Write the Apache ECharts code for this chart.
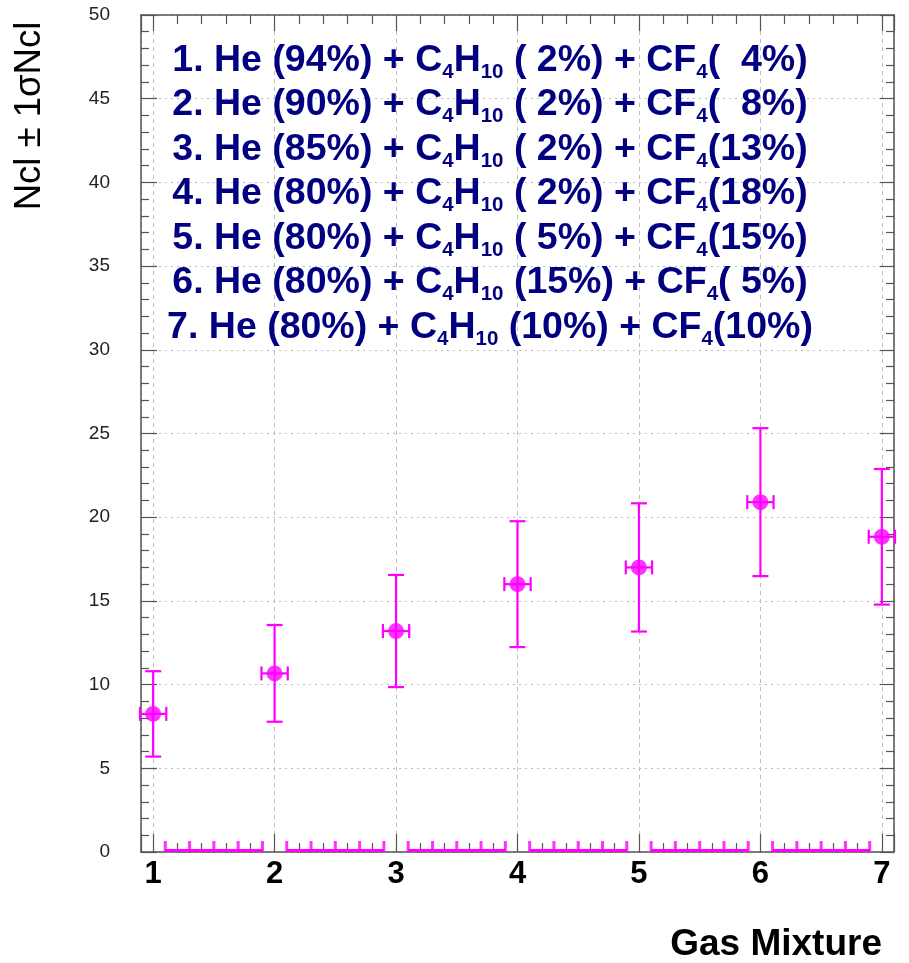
<!DOCTYPE html>
<html><head><meta charset="utf-8">
<script src="https://cdn.jsdelivr.net/npm/echarts@6/dist/echarts.min.js"></script>
<style>html,body{margin:0;padding:0;background:#fff}#c{width:909px;height:963px}</style>
</head><body><div id="c"></div>
<script>
// ---- data ----
const mixture = [1, 2, 3, 4, 5, 6, 7];
const ncl = [8.25, 10.67, 13.2, 16.0, 17.0, 20.9, 18.83];
const nclSigma = [2.55, 2.89, 3.35, 3.76, 3.83, 4.42, 4.05];
const mixtureErr = [0.1, 0.1, 0.1, 0.1, 0.1, 0.1, 0.1];
const zeroSegStart = [1.1, 2.1, 3.1, 4.1, 5.1, 6.1];
const zeroSegEnd = [1.9, 2.9, 3.9, 4.9, 5.9, 6.9];
const zeroMarkX = [1.1, 1.3, 1.5, 1.7, 1.9, 2.1, 2.3, 2.5, 2.7, 2.9, 3.1, 3.3, 3.5, 3.7, 3.9,
  4.1, 4.3, 4.5, 4.7, 4.9, 5.1, 5.3, 5.5, 5.7, 5.9, 6.1, 6.3, 6.5, 6.7, 6.9];
const legendLines = [
  '1. He (94%) + C_{4}H_{10} ( 2%) + CF_{4}(  4%)',
  '2. He (90%) + C_{4}H_{10} ( 2%) + CF_{4}(  8%)',
  '3. He (85%) + C_{4}H_{10} ( 2%) + CF_{4}(13%)',
  '4. He (80%) + C_{4}H_{10} ( 2%) + CF_{4}(18%)',
  '5. He (80%) + C_{4}H_{10} ( 5%) + CF_{4}(15%)',
  '6. He (80%) + C_{4}H_{10} (15%) + CF_{4}( 5%)',
  '7. He (80%) + C_{4}H_{10} (10%) + CF_{4}(10%)'
];
const xTitle = 'Gas Mixture';
const yTitle = 'Ncl \u00b1 1\u03c3Ncl';

// ---- build ----
const MAG = '#ff00ff';
const AX = '#555';
function toRich(line) {
  return line.split(/(_\{[^}]*\})/).filter(s => s.length).map(s => {
    const m = s.match(/^_\{([^}]*)\}$/);
    return m ? '{s|' + m[1] + '}' : '{t|' + s + '}';
  }).join('');
}
const legendRich = legendLines.map(toRich).join('\n');

const pts = mixture.map((x, i) => [x, ncl[i], nclSigma[i], mixtureErr[i]]);
const zeroSegs = zeroSegStart.map((s, i) => [s, zeroSegEnd[i]]);

const chart = echarts.init(document.getElementById('c'), null, {renderer: 'canvas'});
const font = 'Liberation Sans, Arial, Helvetica, sans-serif';
chart.setOption({
  backgroundColor: '#fff',
  animation: false,
  grid: {left: 141, right: 15, top: 15, bottom: 111, containLabel: false},
  xAxis: [{
    type: 'value', min: 0.9, max: 7.1, minInterval: 1, maxInterval: 1, splitNumber: 6,
    position: 'bottom',
    axisLine: {show: true, onZero: false, lineStyle: {color: AX, width: 1.5}},
    axisTick: {show: true, inside: true, length: 18, lineStyle: {color: AX, width: 1.2}},
    minorTick: {show: true, splitNumber: 5, length: 9, lineStyle: {color: AX, width: 1.2}},
    splitLine: {show: true, lineStyle: {color: '#bbb', type: [4, 4], width: 1}},
    axisLabel: {
      show: true, margin: 7, color: '#000', fontFamily: font, fontSize: 31, fontWeight: 'bold',
      showMinLabel: false, showMaxLabel: false,
      formatter: v => Math.abs(v - Math.round(v)) < 1e-6 ? String(Math.round(v)) : ''
    }
  }, {
    type: 'value', min: 0.9, max: 7.1, minInterval: 1, maxInterval: 1, splitNumber: 6,
    position: 'top',
    axisLine: {show: true, onZero: false, lineStyle: {color: AX, width: 1.5}},
    axisTick: {show: true, inside: true, length: 16, lineStyle: {color: AX, width: 1.2}},
    minorTick: {show: true, splitNumber: 5, length: 9, lineStyle: {color: AX, width: 1.2}},
    splitLine: {show: false},
    axisLabel: {show: false}
  }],
  yAxis: [{
    type: 'value', min: 0, max: 50, interval: 5, position: 'left',
    axisLine: {show: true, onZero: false, lineStyle: {color: AX, width: 1.5}},
    axisTick: {show: true, inside: true, length: 16, lineStyle: {color: AX, width: 1.2}},
    minorTick: {show: true, splitNumber: 5, length: 8, lineStyle: {color: AX, width: 1.2}},
    splitLine: {show: true, lineStyle: {color: '#bbb', type: [2, 4], width: 1.2}},
    axisLabel: {show: true, margin: 31, color: '#222', fontFamily: font, fontSize: 19}
  }, {
    type: 'value', min: 0, max: 50, interval: 5, position: 'right',
    axisLine: {show: true, onZero: false, lineStyle: {color: AX, width: 1.5}},
    axisTick: {show: true, inside: true, length: 14, lineStyle: {color: AX, width: 1.2}},
    minorTick: {show: true, splitNumber: 5, length: 8, lineStyle: {color: AX, width: 1.2}},
    splitLine: {show: false},
    axisLabel: {show: false}
  }],
  series: [{
    type: 'custom', name: 'zero', xAxisIndex: 0, yAxisIndex: 0, z: 3,
    data: zeroSegs,
    renderItem: (params, api) => {
      const a = api.coord([api.value(0), 0]);
      const b = api.coord([api.value(1), 0]);
      return {type: 'line', shape: {x1: a[0], y1: a[1] - 1.5, x2: b[0], y2: b[1] - 1.5},
        style: {stroke: MAG, lineWidth: 3}};
    }
  }, {
    type: 'scatter', name: 'zeroTicks', xAxisIndex: 0, yAxisIndex: 0, z: 3,
    symbol: 'rect', symbolSize: [3, 11], symbolOffset: [0, -5.5],
    itemStyle: {color: MAG}, silent: true,
    data: zeroMarkX.map(x => [x, 0])
  }, {
    type: 'custom', name: 'errors', xAxisIndex: 0, yAxisIndex: 0, z: 4,
    data: pts,
    renderItem: (params, api) => {
      const x = api.value(0), y = api.value(1), sy = api.value(2), sx = api.value(3);
      const top = api.coord([x, y + sy]);
      const bot = api.coord([x, y - sy]);
      const l = api.coord([x - sx, y]);
      const r = api.coord([x + sx, y]);
      const st = {stroke: MAG, lineWidth: 2.2};
      const cw = 8, ch = 7;
      return {type: 'group', children: [
        {type: 'line', shape: {x1: top[0], y1: top[1], x2: bot[0], y2: bot[1]}, style: st},
        {type: 'line', shape: {x1: top[0] - cw, y1: top[1], x2: top[0] + cw, y2: top[1]}, style: st},
        {type: 'line', shape: {x1: bot[0] - cw, y1: bot[1], x2: bot[0] + cw, y2: bot[1]}, style: st},
        {type: 'line', shape: {x1: l[0] - 1, y1: l[1], x2: r[0] + 1, y2: r[1]}, style: st},
        {type: 'line', shape: {x1: l[0] - 1, y1: l[1] - ch, x2: l[0] - 1, y2: l[1] + ch}, style: st},
        {type: 'line', shape: {x1: r[0] + 1, y1: r[1] - ch, x2: r[0] + 1, y2: r[1] + ch}, style: st}
      ]};
    }
  }, {
    type: 'scatter', name: 'Ncl', xAxisIndex: 0, yAxisIndex: 0, z: 5,
    symbol: 'circle', symbolSize: 16, itemStyle: {color: MAG},
    data: pts.map(p => [p[0], p[1]])
  }],
  graphic: [{
    type: 'text', x: 490, y: 38, z: 10,
    style: {
      text: legendRich, align: 'center', verticalAlign: 'top',
      rich: {
        t: {fontFamily: font, fontSize: 37.5, fontWeight: 'bold', fill: '#000080', color: '#000080', lineHeight: 44.5, verticalAlign: 'middle'},
        s: {fontFamily: font, fontSize: 20.5, fontWeight: 'bold', fill: '#000080', color: '#000080', lineHeight: 20, verticalAlign: 'bottom'}
      }
    }
  }, {
    type: 'text', x: 30, y: 116, rotation: Math.PI / 2, z: 10,
    style: {text: yTitle, fill: '#000', align: 'center', verticalAlign: 'middle',
      font: '36.5px ' + font}
  }, {
    type: 'text', x: 882, y: 945, z: 10,
    style: {text: xTitle, fill: '#000', align: 'right', verticalAlign: 'middle',
      font: 'bold 37px ' + font}
  }]
});
</script>
</body></html>
